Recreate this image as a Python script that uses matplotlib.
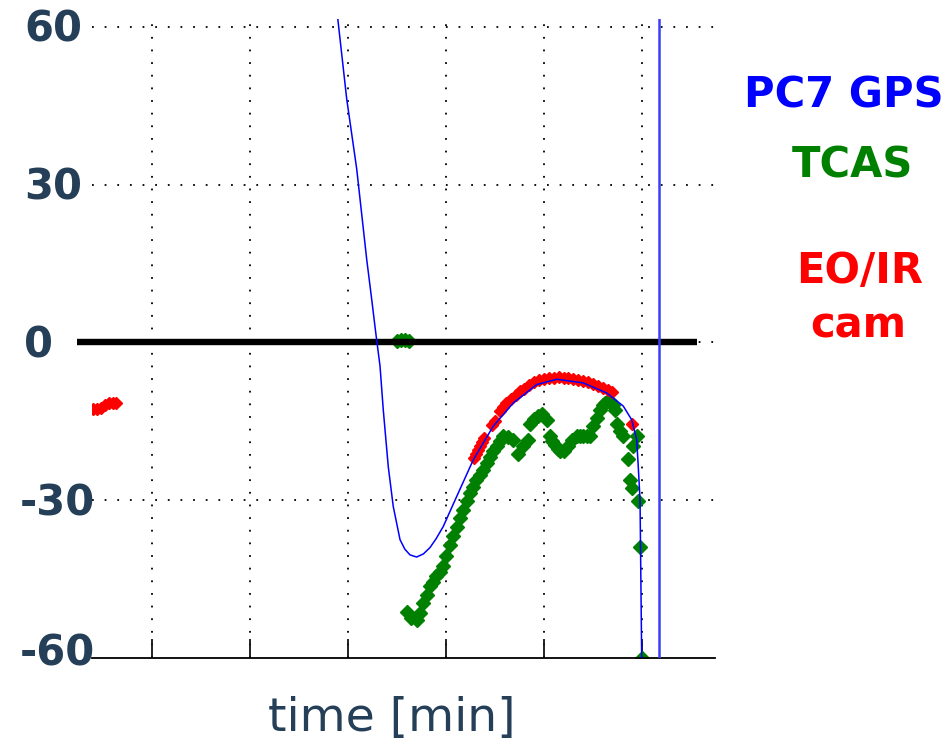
"""Altitude difference vs time: PC7 GPS, TCAS and EO/IR camera tracks."""
import matplotlib
matplotlib.use("Agg")
import matplotlib.pyplot as plt
from matplotlib import transforms

# ---- data --------------------------------------------------------------------
gps_t = [2.895, 2.987, 3.089, 3.191, 3.242, 3.283, 3.327, 3.360, 3.411, 3.462,
         3.531, 3.580, 3.633, 3.701, 3.770, 3.837, 3.900, 3.972, 4.109, 4.279,
         4.483, 4.687, 4.926, 5.130, 5.401, 5.640, 5.809, 5.895, 5.946, 5.962,
         5.980, 5.997]
gps_v = [61.7, 46.3, 33.0, 15.8, 8.2, 1.9, -4.5, -12.8, -23.6, -31.2,
         -37.5, -39.3, -40.4, -40.8, -40.2, -39.0, -37.3, -35.0, -29.3, -22.3,
         -15.9, -11.5, -8.0, -7.0, -7.7, -9.6, -12.1, -14.7, -18.5, -23.6,
         -29.9, -60.0]
gps_end_t = 6.173  # vertical GPS trace on the right

tcas_t = [3.50, 3.54, 3.58, 3.62,
          3.599, 3.643, 3.701, 3.735, 3.768, 3.806, 3.837, 3.870, 3.898, 3.935,
          3.972, 4.005, 4.041, 4.075, 4.109, 4.140, 4.173, 4.210, 4.245, 4.276,
          4.306, 4.345, 4.381, 4.415, 4.449, 4.483, 4.517, 4.550, 4.585, 4.633,
          4.687, 4.738, 4.789, 4.840, 4.857, 4.898, 4.942, 4.980, 5.028, 5.061,
          5.085, 5.112, 5.140, 5.163, 5.204, 5.248, 5.286, 5.334, 5.370, 5.398,
          5.435, 5.469, 5.503, 5.541, 5.571, 5.600, 5.622, 5.650, 5.673, 5.700,
          5.724, 5.742, 5.776, 5.809, 5.854, 5.878, 5.895, 5.911, 5.946, 5.962,
          5.980, 6.000]
tcas_v = [0.3, 0.5, 0.5, 0.3,
          -51.2, -52.3, -52.8, -51.5, -49.6, -48.0, -46.4, -45.5, -44.5, -43.6,
          -42.6, -40.6, -38.5, -36.8, -35.0, -33.4, -31.8, -30.2, -28.6, -27.4,
          -26.2, -25.2, -24.2, -23.0, -21.8, -20.7, -19.7, -18.7, -17.8, -17.9,
          -18.5, -21.3, -19.7, -18.5, -15.6, -14.6, -14.0, -13.6, -14.7, -17.8,
          -18.8, -19.5, -20.3, -20.7, -20.6, -19.7, -18.5, -17.8, -17.8, -17.8,
          -17.8, -17.8, -15.9, -14.3, -12.8, -11.8, -11.5, -11.2, -11.2, -11.8,
          -12.8, -15.6, -16.8, -17.8, -22.2, -26.1, -27.7, -19.7, -17.8, -30.2,
          -38.8, -60.0]

eoir_t = [0.40, 0.44, 0.48, 0.52, 0.56, 0.60, 0.63,
          4.29, 4.31, 4.33, 4.35, 4.37, 4.39, 4.47, 4.50, 4.55, 4.58, 4.61,
          4.66, 4.71, 4.76, 4.80, 4.85, 4.90, 4.95, 5.00, 5.05, 5.10, 5.15,
          5.20, 5.25, 5.30, 5.35, 5.40, 5.45, 5.50, 5.55, 5.60, 5.65, 5.69,
          5.895]
eoir_v = [-12.6, -12.6, -12.4, -11.8, -11.6, -11.6, -11.6,
          -22.0, -21.2, -20.4, -19.6, -18.9, -18.2, -15.7, -15.0, -13.0, -12.2,
          -11.5, -10.8, -10.0, -9.3, -8.8, -8.1, -7.6, -7.2, -7.0, -6.8, -6.7,
          -6.6, -6.7, -6.8, -6.9, -7.1, -7.4, -7.6, -7.9, -8.2, -8.6, -9.0,
          -9.5, -15.6]

yticks = [60, 30, 0, -30, -60]
ytick_labels = ["60", "30", "0", "-30", "-60"]
xticks = [1, 2, 3, 4, 5, 6]

legend_labels = ["PC7 GPS", "TCAS", "EO/IR", "cam"]

# ---- figure ------------------------------------------------------------------
W, H = 953, 740
fig = plt.figure(figsize=(W / 100, H / 100), dpi=100)
ax = fig.add_axes([92 / W, 1 - 658 / H, (715 - 92) / W, (658 - 19) / H])
ax.set_xlim(0.388, 6.745)
ax.set_ylim(-60, 61.5)

txt_col = "#243f57"
dots = (0, (1, 6))

for yv in [60, 30, 0, -30]:
    ax.axhline(yv, color="black", lw=1.3, ls=dots, zorder=1)
for xv in xticks:
    ax.axvline(xv, color="black", lw=1.3, ls=dots, zorder=1)

ax.plot(tcas_t, tcas_v, ls="none", marker="D", ms=7, color="#008000",
        mec="#008000", zorder=2)
ax.plot(eoir_t, eoir_v, ls="none", marker="D", ms=6, color="#ff0000",
        mec="#ff0000", zorder=3)

ax.hlines(0, 0.235, 6.561, color="black", lw=4.6, zorder=4, clip_on=False)

ax.plot(gps_t, gps_v, color="#0000ff", lw=1.1, zorder=5)
ax.axvline(gps_end_t, color="#3c3cff", lw=1.8, zorder=5)

# axes frame: only the bottom spine with inward ticks
for s in ["left", "top", "right"]:
    ax.spines[s].set_visible(False)
ax.spines["bottom"].set_linewidth(1.3)
ax.set_xticks(xticks)
ax.set_xticklabels([])
ax.tick_params(axis="x", direction="in", length=14, width=1.3, color="#111111")
ax.set_yticks([])

# y labels, left aligned outside the axes
blend = transforms.blended_transform_factory(fig.transFigure, ax.transData)
for yv, lab in zip(yticks, ytick_labels):
    dy = -15 if yv != -60 else -7
    tr = transforms.offset_copy(blend, fig=fig, y=dy, units="dots")
    ax.text(20 / W if yv < 0 else 24 / W, yv, lab, transform=tr, ha="left",
            va="baseline", fontsize=30, fontweight="bold", color=txt_col,
            clip_on=False)

fig.text(392 / W, 1 - 731 / H, "time [min]", ha="center", va="baseline",
         fontsize=34, color=txt_col)

# legend as coloured text
fig.text(844 / W, 1 - 107 / H, legend_labels[0], ha="center", va="baseline",
         fontsize=30, fontweight="bold", color="#0000ff")
fig.text(852 / W, 1 - 177 / H, legend_labels[1], ha="center", va="baseline",
         fontsize=30, fontweight="bold", color="#008000")
fig.text(860 / W, 1 - 283 / H, legend_labels[2], ha="center", va="baseline",
         fontsize=30, fontweight="bold", color="#ff0000")
fig.text(858 / W, 1 - 337 / H, legend_labels[3], ha="center", va="baseline",
         fontsize=30, fontweight="bold", color="#ff0000")

fig.savefig("out.png", dpi=100)
